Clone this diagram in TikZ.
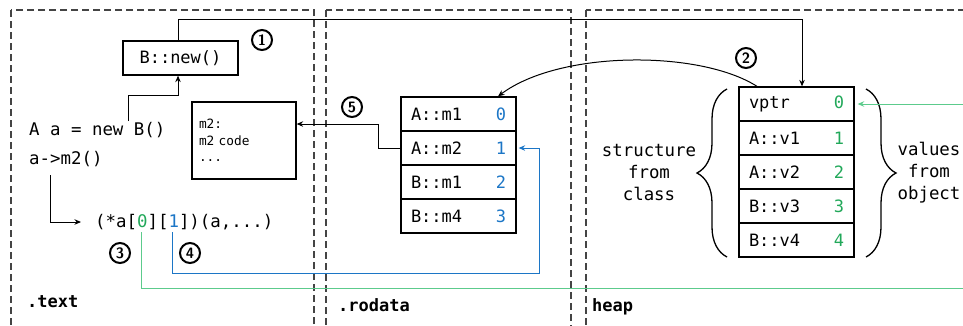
\documentclass[tikz,border=0pt]{standalone}
\usepackage{fontspec}
\setmonofont{DejaVu Sans Mono}
\usetikzlibrary{arrows.meta,decorations.pathreplacing}
\definecolor{idxgreen}{HTML}{22A85A}
\definecolor{linegreen}{HTML}{5CCB8C}
\definecolor{idxblue}{HTML}{1C76C6}
\definecolor{dashgray}{HTML}{444444}
\tikzset{
  code/.style={font=\ttfamily\fontsize{17.4}{20}\selectfont, inner sep=0pt},
  smallcode/.style={font=\ttfamily\fontsize{12.8}{16.5}\selectfont},
  seglabel/.style={font=\ttfamily\bfseries\fontsize{17}{20}\selectfont, anchor=west, inner sep=0pt},
  segment/.style={draw=dashgray, line width=1.1pt, dash pattern=on 7pt off 4pt},
  cell/.style={draw, line width=1.3pt, minimum width=115pt, minimum height=34pt,
    text width=95pt, inner xsep=10pt, inner ysep=0pt, align=left,
    font=\ttfamily\fontsize{17}{20}\selectfont},
  stepnum/.style={circle, draw, line width=2pt, inner sep=0pt, minimum size=20pt,
    font=\sffamily\bfseries\fontsize{15}{15}\selectfont},
  arr/.style={-{Stealth[length=6.5pt,width=5.5pt]}, line width=1pt},
  brc/.style={decorate, decoration={brace, amplitude=30pt, aspect=0.5}, line width=1.3pt}
}
\begin{document}
\begin{tikzpicture}[x=1pt,y=-1pt]
  \clip (0,0) rectangle (963,325);
  % memory segments
  \draw[segment] (11,10) rectangle (314,340);
  \draw[segment] (326,10) rectangle (571,340);
  \draw[segment] (586,10) rectangle (990,340);
  \node[seglabel] (textseg) at (27,302) {.text};
  \node[seglabel] (rodataseg) at (338,305) {.rodata};
  \node[seglabel] (heapseg) at (592,307) {heap};

  % .text
  \node[cell, text width=, align=center, inner xsep=0pt] (bnew) at (180.5,58) {B::new()};
  \node[code, anchor=west] (decl) at (29,130) {A a = new B()};
  \node[code, anchor=west] (callsrc) at (29,159) {a->m2()};
  \node[code, anchor=west] (call) at (95,222)
    {(*a[\textcolor{idxgreen}{0}][\textcolor{idxblue}{1}])(a,...)};
  \node[draw, line width=1.3pt, minimum width=104pt, minimum height=77pt,
    text width=90pt, inner xsep=7pt, align=left, smallcode] (m2code) at (244,140.5)
    {m2:\\m2 code\\...};
  \coordinate (declTop) at (128,121);
  \coordinate (callsrcBot) at (50,175);
  \coordinate (idx0) at (141,232);
  \coordinate (idx1) at (172,232);

  % .rodata : vtable
  \node[cell] (r0) at (458.5,114) {A::m1\hfill\textcolor{idxblue}{0}};
  \node[cell] (r1) at (458.5,148) {A::m2\hfill\textcolor{idxblue}{1}};
  \node[cell] (r2) at (458.5,182) {B::m1\hfill\textcolor{idxblue}{2}};
  \node[cell] (r3) at (458.5,216) {B::m4\hfill\textcolor{idxblue}{3}};

  % heap : object
  \node[cell] (h0) at (796.5,104) {vptr\hfill\textcolor{idxgreen}{0}};
  \node[cell] (h1) at (796.5,138) {A::v1\hfill\textcolor{idxgreen}{1}};
  \node[cell] (h2) at (796.5,172) {A::v2\hfill\textcolor{idxgreen}{2}};
  \node[cell] (h3) at (796.5,206) {B::v3\hfill\textcolor{idxgreen}{3}};
  \node[cell] (h4) at (796.5,240) {B::v4\hfill\textcolor{idxgreen}{4}};
  \draw[brc] (727,257) -- (727,89);
  \draw[brc] (866,89) -- (866,257);
  \node[code, align=center] (structure) at (649,173) {structure\\[2pt]from\\[2pt]class};
  \node[code, align=center] (values) at (929,173) {values\\[2pt]from\\[2pt]object};

  % steps
  \node[stepnum] (s1) at (262,40) {1};
  \node[stepnum] (s2) at (746,58) {2};
  \node[stepnum] (s3) at (120,253) {3};
  \node[stepnum] (s4) at (190,253) {4};
  \node[stepnum] (s5) at (352,107) {5};

  % connectors
  \draw[arr] (declTop) -- (128,95) -| ([xshift=-2.5pt]bnew.south);
  \draw[arr] ([xshift=-2.5pt]bnew.north) |- (802,19) -- ([xshift=5.5pt]h0.north);
  \draw[arr] (callsrcBot) |- ([xshift=-14pt]call.west);
  \draw[arr] ([xshift=-39.5pt]h0.north) .. controls (700,50) and (560,50) .. ([xshift=39.5pt]r0.north);
  \draw[arr] (r1.west) -- (378,148) |- ([yshift=16.5pt]m2code.east);
  \draw[arr, idxblue] (idx1) |- (539,273) |- ([xshift=2pt]r1.east);
  \draw[arr, linegreen] (idx0) |- (975,288) |- ([xshift=3pt]h0.east);
\end{tikzpicture}
\end{document}
